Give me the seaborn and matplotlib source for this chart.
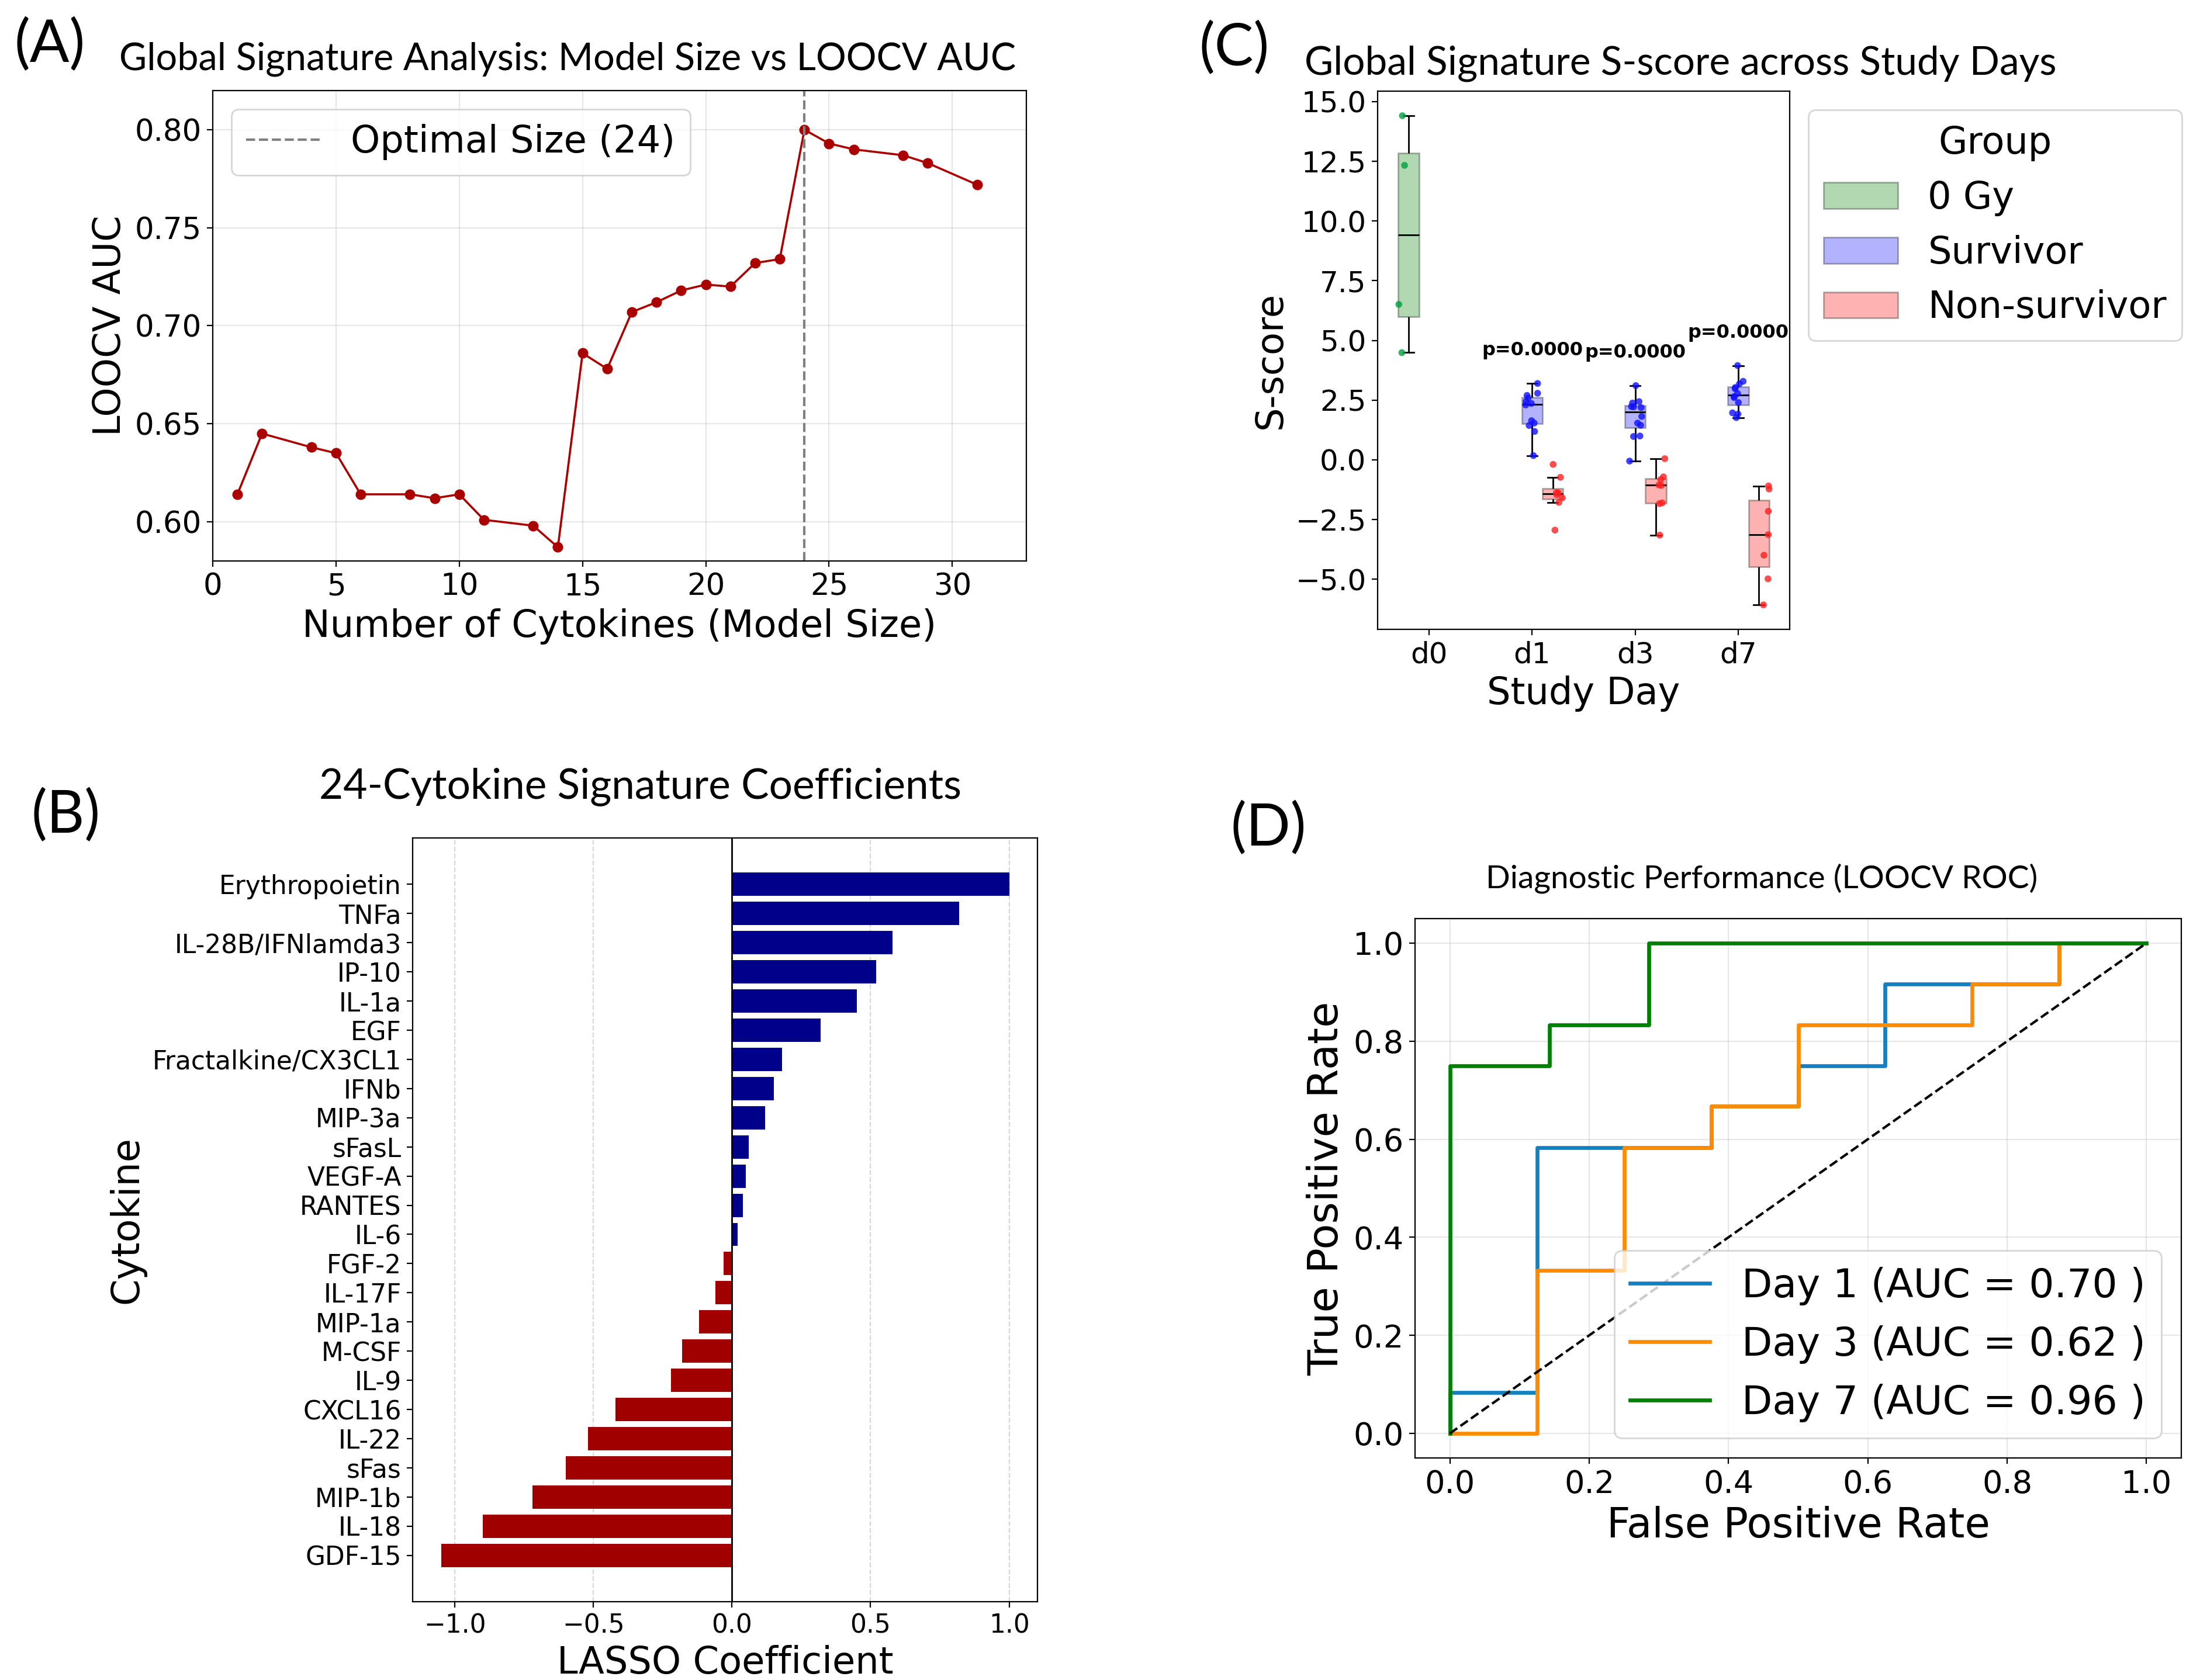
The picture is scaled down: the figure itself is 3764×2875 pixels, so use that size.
import numpy as np
import pandas as pd
import matplotlib
matplotlib.use("Agg")
import matplotlib.pyplot as plt
import matplotlib.patches as mpatches
from matplotlib.ticker import MultipleLocator
import seaborn as sns

# ---- (A) model size vs LOOCV AUC ----
model_sizes = [1, 2, 4, 5, 6, 8, 9, 10, 11, 13, 14, 15, 16, 17, 18, 19, 20,
               21, 22, 23, 24, 25, 26, 28, 29, 31]
loocv_auc = [0.614, 0.645, 0.638, 0.635, 0.614, 0.614, 0.612, 0.614, 0.601,
             0.598, 0.587, 0.686, 0.678, 0.707, 0.712, 0.718, 0.721, 0.720,
             0.732, 0.734, 0.800, 0.793, 0.790, 0.787, 0.783, 0.772]
optimal_size = 24

# ---- (B) LASSO coefficients ----
cytokines = ["Erythropoietin", "TNFa", "IL-28B/IFNlamda3", "IP-10", "IL-1a",
             "EGF", "Fractalkine/CX3CL1", "IFNb", "MIP-3a", "sFasL", "VEGF-A",
             "RANTES", "IL-6", "FGF-2", "IL-17F", "MIP-1a", "M-CSF", "IL-9",
             "CXCL16", "IL-22", "sFas", "MIP-1b", "IL-18", "GDF-15"]
coefs = [1.00, 0.82, 0.58, 0.52, 0.45, 0.32, 0.18, 0.15, 0.12, 0.06, 0.05,
         0.04, 0.02, -0.03, -0.06, -0.12, -0.18, -0.22, -0.42, -0.52, -0.60,
         -0.72, -0.90, -1.05]

# ---- (C) S-score per study day ----
days = ["d0", "d1", "d3", "d7"]
groups = ["0 Gy", "Survivor", "Non-survivor"]
d0_ctrl = [14.41, 12.33, 6.51, 4.49]
d1_surv = [3.20, 2.79, 2.70, 2.59, 2.44, 2.36, 2.30, 1.64, 1.54, 1.44, 1.19, 0.18]
d1_nonsurv = [-0.19, -0.73, -1.37, -1.38, -1.46, -1.59, -1.78, -2.94]
d3_surv = [3.11, 2.44, 2.38, 2.23, 2.22, 2.19, 1.82, 1.54, 1.45, 1.00, 0.98, -0.05]
d3_nonsurv = [0.05, -0.71, -0.82, -1.05, -1.07, -1.80, -1.83, -3.15]
d7_surv = [3.95, 3.29, 3.18, 3.03, 2.98, 2.78, 2.65, 2.61, 2.40, 1.97, 1.92, 1.77]
d7_nonsurv = [-1.09, -1.22, -2.15, -3.13, -3.99, -4.98, -6.07]
p_values = [0.0, 0.0, 0.0]  # d1, d3, d7

# ---- (D) ROC curves ----
fpr_d1 = [0, 0, 0.125, 0.125, 0.25, 0.375, 0.375, 0.5, 0.5, 0.625, 0.625, 0.75, 0.875, 0.875, 1.0]
tpr_d1 = [0, 0.083, 0.083, 0.583, 0.583, 0.583, 0.667, 0.667, 0.75, 0.75, 0.917, 0.917, 0.917, 1.0, 1.0]
fpr_d3 = [0, 0.125, 0.125, 0.25, 0.25, 0.375, 0.375, 0.5, 0.5, 0.75, 0.75, 0.875, 0.875, 1.0]
tpr_d3 = [0, 0, 0.333, 0.333, 0.583, 0.583, 0.667, 0.667, 0.833, 0.833, 0.917, 0.917, 1.0, 1.0]
fpr_d7 = [0, 0, 0.143, 0.143, 0.286, 0.286, 1.0]
tpr_d7 = [0, 0.75, 0.75, 0.833, 0.833, 1.0, 1.0]
roc_auc = [0.70, 0.62, 0.96]

TITLE_FONT = ["Lato", "DejaVu Sans"]

fig = plt.figure(figsize=(18.82, 14.375), dpi=200)

# ================= (A) =================
axA = fig.add_axes([0.0967, 0.6661, 0.3698, 0.2800])
sns.lineplot(x=model_sizes, y=loocv_auc, ax=axA, color="#aa0000", lw=1.3,
             marker="o", markersize=6.5, markeredgecolor="#aa0000", markeredgewidth=0)
axA.axvline(optimal_size, color="gray", ls="--", lw=1.5, label=f"Optimal Size ({optimal_size})")
axA.set_xlim(0, 33)
axA.set_ylim(0.58, 0.82)
axA.grid(True, alpha=0.3)
axA.tick_params(labelsize=18.5)
axA.set_xlabel("Number of Cytokines (Model Size)", fontsize=23)
axA.set_ylabel("LOOCV AUC", fontsize=23)
axA.legend(loc="upper left", fontsize=23)

# ================= (B) =================
axB = fig.add_axes([0.1876, 0.0466, 0.2840, 0.4546])
dfB = pd.DataFrame({"Cytokine": cytokines, "coef": coefs})
dfB["sign"] = np.where(dfB["coef"] >= 0, "pos", "neg")
sns.barplot(data=dfB, x="coef", y="Cytokine", hue="sign", order=cytokines,
            palette={"pos": "#00008b", "neg": "#a00000"}, dodge=False,
            width=0.8, saturation=1, legend=False, ax=axB)
axB.axvline(0, color="black", lw=1)
pad = 0.4 + 0.05 * (len(cytokines) - 1 + 0.8)
axB.set_ylim(len(cytokines) - 1 + pad, -pad)
axB.grid(True, axis="x", ls="--", alpha=0.5)
axB.set_axisbelow(True)
axB.tick_params(labelsize=15.8)
axB.set_xlabel("LASSO Coefficient", fontsize=23)
axB.set_ylabel("Cytokine", fontsize=23.5)

# ================= (C) =================
axC = fig.add_axes([0.6262, 0.6254, 0.1873, 0.3203])
rows = []
for day, grp, vals in [("d0", "0 Gy", d0_ctrl),
                       ("d1", "Survivor", d1_surv), ("d1", "Non-survivor", d1_nonsurv),
                       ("d3", "Survivor", d3_surv), ("d3", "Non-survivor", d3_nonsurv),
                       ("d7", "Survivor", d7_surv), ("d7", "Non-survivor", d7_nonsurv)]:
    for v in vals:
        rows.append({"Day": day, "Group": grp, "S-score": v})
dfC = pd.DataFrame(rows)

box_pal = {"0 Gy": "green", "Survivor": "blue", "Non-survivor": "red"}
pt_pal = {"0 Gy": "#00a040", "Survivor": "#1010ff", "Non-survivor": "#ff2020"}
sns.boxplot(data=dfC, x="Day", y="S-score", hue="Group", order=days,
            hue_order=groups, palette=box_pal, width=0.6, showfliers=False,
            saturation=1, linecolor="black", linewidth=1, boxprops={"alpha": 0.3},
            legend=False, ax=axC)
np.random.seed(3)
sns.stripplot(data=dfC, x="Day", y="S-score", hue="Group", order=days,
              hue_order=groups, palette=pt_pal, dodge=True, jitter=0.2,
              size=4.2, alpha=0.8, legend=False, ax=axC)
for i, day in enumerate(days[1:], start=1):
    top = dfC.loc[dfC["Day"] == day, "S-score"].max()
    axC.text(i, top + 1, f"p={p_values[i - 1]:.4f}", ha="center", va="bottom",
             fontsize=11.5, fontweight="bold")
axC.yaxis.set_major_locator(MultipleLocator(2.5))
axC.tick_params(labelsize=18)
axC.set_xlabel("Study Day", fontsize=23)
axC.set_ylabel("S-score", fontsize=23)
handles = [mpatches.Patch(facecolor=box_pal[g], edgecolor="black", alpha=0.3, label=g)
           for g in groups]
axC.legend(handles=handles, title="Group", fontsize=23, title_fontsize=23,
           loc="upper left", bbox_to_anchor=(1.0, 1.0))

# ================= (D) =================
axD = fig.add_axes([0.6432, 0.1322, 0.3483, 0.3210])
roc_colors = ["#1580bf", "#ff8c00", "#008000"]
for k, (fpr, tpr) in enumerate([(fpr_d1, tpr_d1), (fpr_d3, tpr_d3), (fpr_d7, tpr_d7)]):
    label = f"Day {[1, 3, 7][k]} (AUC = {roc_auc[k]:.2f} )"
    sns.lineplot(x=fpr, y=tpr, sort=False, estimator=None, color=roc_colors[k],
                 lw=2.4, label=label, ax=axD)
axD.plot([0, 1], [0, 1], "k--", lw=1.5)
axD.set_xlim(-0.05, 1.05)
axD.set_ylim(-0.05, 1.05)
axD.grid(True, alpha=0.3)
axD.tick_params(labelsize=19.5)
axD.set_xlabel("False Positive Rate", fontsize=25.4)
axD.set_ylabel("True Positive Rate", fontsize=25.9)
axD.legend(loc="lower right", fontsize=24.5)

# ---- panel letters and titles ----
for txt, x, y in [("(A)", 0.0064, 0.9896), ("(C)", 0.5449, 0.9875),
                  ("(B)", 0.0141, 0.5308), ("(D)", 0.5593, 0.5231)]:
    fig.text(x, y, txt, fontsize=36, family=TITLE_FONT, ha="left", va="top")

fig.text(0.258, 0.9750, "Global Signature Analysis: Model Size vs LOOCV AUC",
         fontsize=23.3, family=TITLE_FONT, ha="center", va="top")
fig.text(0.764, 0.9730, "Global Signature S-score across Study Days",
         fontsize=24.3, family=TITLE_FONT, ha="center", va="top")
fig.text(0.291, 0.5430, "24-Cytokine Signature Coefficients",
         fontsize=25.6, family=TITLE_FONT, ha="center", va="top")
fig.text(0.8008, 0.4862, "Diagnostic Performance (LOOCV ROC)",
         fontsize=19.8, family=TITLE_FONT, ha="center", va="top")

fig.savefig("out.png", dpi=200)
